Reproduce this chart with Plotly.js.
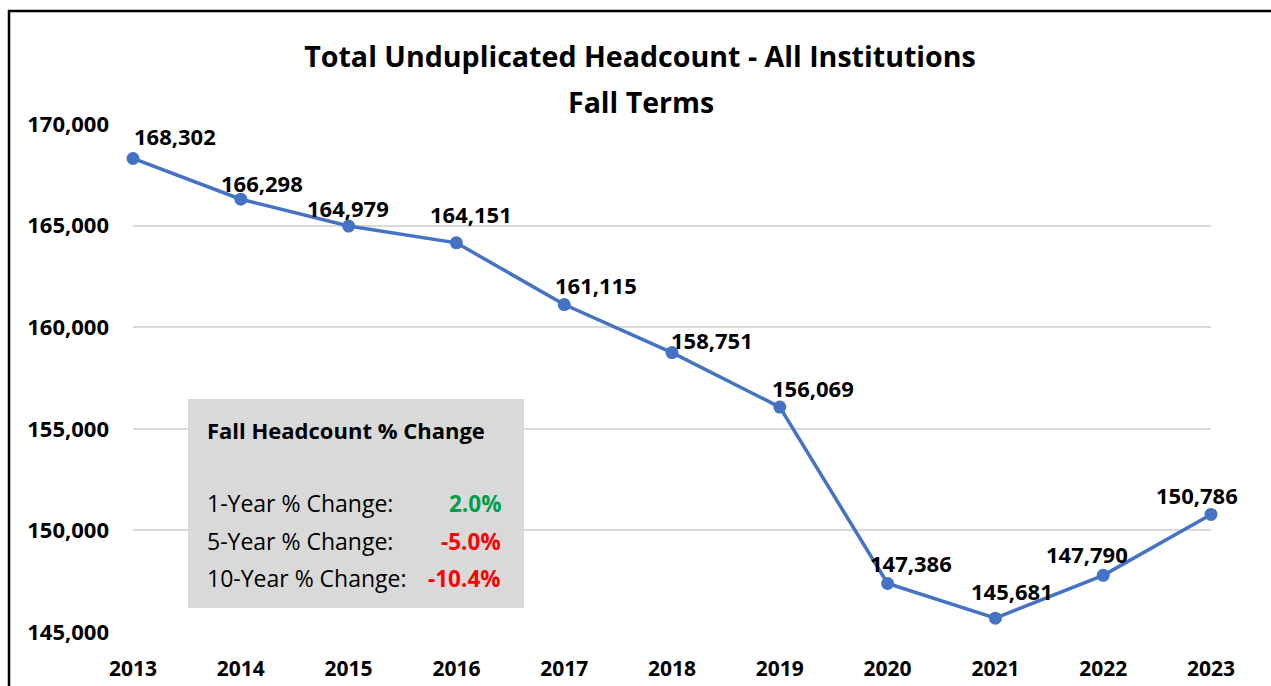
<!DOCTYPE html>
<html>
<head>
<meta charset="utf-8">
<script src="https://cdn.plot.ly/plotly-3.0.1.min.js"></script>
<style>html,body{margin:0;padding:0;background:#fff;}#chart{width:1271px;height:686px;}</style>
</head>
<body>
<div id="chart"></div>
<script>
const years = [2013, 2014, 2015, 2016, 2017, 2018, 2019, 2020, 2021, 2022, 2023];
const headcount = [168302, 166298, 164979, 164151, 161115, 158751, 156069, 147386, 145681, 147790, 150786];
const yTicks = [145000, 150000, 155000, 160000, 165000, 170000];
const changeLabels = ["1-Year % Change:", "5-Year % Change:", "10-Year % Change:"];
const changeValues = ["2.0%", "-5.0%", "-10.4%"];
const changeColors = ["#00A04A", "#FF0000", "#FF0000"];

// label placement offsets (pixels) - styling only
const labelDx = [42, 21, -1, 15, 32, 40, 33, 23, 17, -16, -14];
const labelDy = [23, 16, 18, 29, 20, 13, 19, 21, 27, 21, 19];

const FONT = "Open Sans, Noto Sans, sans-serif";
const W = 1271, H = 686, L = 133, R = 60, T = 124, B = 54;
const pw = W - L - R, ph = H - T - B;
const px = x => (x - L) / pw;
const py = y => (H - B - y) / ph;

const annotations = headcount.map((v, i) => ({
  x: years[i], y: v, xref: 'x', yref: 'y',
  text: v.toLocaleString('en-US'),
  showarrow: false, xshift: labelDx[i], yshift: labelDy[i],
  font: {family: FONT, size: 22, color: '#000', weight: 'bold'},
  xanchor: 'center', yanchor: 'middle'
}));

annotations.push({
  x: px(641), y: py(102), xref: 'paper', yref: 'paper',
  text: 'Fall Terms', showarrow: false, xanchor: 'center', yanchor: 'middle',
  font: {family: FONT, size: 28.5, color: '#000', weight: 'bold'}
});

annotations.push({
  x: px(205), y: py(430), xref: 'paper', yref: 'paper',
  text: 'Fall Headcount % Change', showarrow: false, xanchor: 'left', yanchor: 'middle',
  font: {family: FONT, size: 22, color: '#000', weight: 'bold'}
});
const rowsY = [503, 541, 578];
changeLabels.forEach((t, i) => {
  annotations.push({
    x: px(205), y: py(rowsY[i]), xref: 'paper', yref: 'paper',
    text: t, showarrow: false, xanchor: 'left', yanchor: 'middle',
    font: {family: FONT, size: 23, color: '#000'}
  });
  annotations.push({
    x: px(503), y: py(rowsY[i]), xref: 'paper', yref: 'paper',
    text: changeValues[i], showarrow: false, xanchor: 'right', yanchor: 'middle',
    font: {family: FONT, size: 22.5, color: changeColors[i], weight: 'bold'}
  });
});

const data = [{
  x: years, y: headcount, type: 'scatter', mode: 'lines+markers',
  line: {color: '#4472C4', width: 3.5},
  marker: {color: '#4472C4', size: 13},
  hoverinfo: 'x+y', cliponaxis: false
}];

const layout = {
  width: W, height: H,
  margin: {l: L, r: R, t: T, b: B},
  paper_bgcolor: '#fff', plot_bgcolor: '#fff',
  showlegend: false,
  title: {
    text: 'Total Unduplicated Headcount - All Institutions',
    x: 640 / W, xanchor: 'center', xref: 'container',
    y: 1 - 57 / H, yanchor: 'middle', yref: 'container',
    font: {family: FONT, size: 28.6, color: '#000', weight: 'bold'}
  },
  xaxis: {
    range: [2013, 2023], tickvals: years, ticktext: years.map(String),
    showgrid: false, zeroline: false, showline: false, ticks: '',
    ticklabelstandoff: 22,
    tickfont: {family: FONT, size: 21, color: '#000', weight: 'bold'}
  },
  yaxis: {
    range: [145000, 170000], tickvals: yTicks,
    ticktext: yTicks.map(v => v.toLocaleString('en-US')),
    showgrid: true, gridcolor: '#D9D9D9', gridwidth: 2,
    zeroline: false, showline: false, ticks: '',
    ticklabelstandoff: 23,
    tickfont: {family: FONT, size: 22, color: '#000', weight: 'bold'}
  },
  shapes: [
    {type: 'rect', xref: 'paper', yref: 'paper',
     x0: px(188), x1: px(524), y0: py(608), y1: py(399),
     fillcolor: '#D9D9D9', line: {width: 0}, layer: 'above'},
    {type: 'rect', xref: 'paper', yref: 'paper',
     x0: px(9), x1: px(1300), y0: py(720), y1: py(11),
     fillcolor: 'rgba(0,0,0,0)', line: {color: '#000', width: 2.5}, layer: 'above'}
  ],
  annotations: annotations
};

Plotly.newPlot('chart', data, layout, {displayModeBar: false, staticPlot: true});
</script>
</body>
</html>
